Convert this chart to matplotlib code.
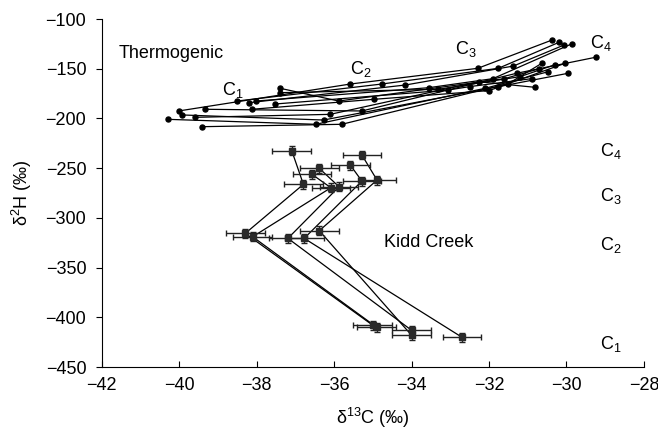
import matplotlib
matplotlib.use("Agg")
import matplotlib.pyplot as plt
import numpy as np

plt.rcParams['font.family'] = ['Liberation Sans', 'DejaVu Sans']
plt.rcParams['mathtext.default'] = 'regular'

# Thermogenic series: each row = C1, C2, C3, C4 (d13C, d2H)
thermo_c13 = [
    [-40.01, -35.58, -32.29, -30.37],
    [-40.29, -36.47, -32.10, -30.47],
    [-39.92, -36.27, -31.76, -29.96],
    [-39.60, -36.10, -32.27, -30.81],
    [-39.40, -35.80, -31.50, -30.64],
    [-39.32, -35.28, -31.29, -29.25],
    [-38.50, -34.77, -31.76, -30.19],
    [-38.20, -34.16, -31.37, -30.06],
    [-38.01, -33.56, -31.90, -29.87],
    [-38.12, -34.98, -32.00, -30.04],
    [-37.39, -35.88, -31.60, -30.70],
    [-37.40, -33.31, -31.20, -30.30],
    [-37.52, -33.05, -32.50, -30.90],
]
thermo_h2 = [
    [-192.5, -165.4, -149.6, -121.1],
    [-200.9, -205.9, -169.7, -153.0],
    [-196.5, -201.6, -168.1, -154.6],
    [-198.9, -195.9, -163.1, -168.7],
    [-208.3, -205.9, -165.0, -144.6],
    [-190.8, -192.5, -154.6, -138.5],
    [-182.5, -165.4, -149.6, -123.4],
    [-184.2, -166.4, -147.3, -126.1],
    [-182.5, -169.1, -160.0, -125.1],
    [-190.8, -180.8, -172.0, -144.6],
    [-169.7, -182.5, -160.0, -150.0],
    [-174.1, -170.7, -158.0, -146.0],
    [-185.5, -171.4, -168.0, -160.0],
]

# Kidd Creek series: each row = C1, C2, C3, C4
kidd_c13 = [
    [-35.00, -38.29, -36.79, -37.09],
    [-34.90, -38.10, -36.08, -36.57],
    [-34.00, -37.19, -35.87, -36.38],
    [-34.00, -36.38, -34.89, -35.28],
    [-32.70, -36.77, -35.28, -35.58],
]
kidd_h2 = [
    [-408.0, -315.6, -266.3, -232.5],
    [-410.0, -319.0, -269.7, -256.2],
    [-413.0, -320.6, -268.7, -250.2],
    [-418.0, -312.9, -262.0, -236.8],
    [-420.0, -320.6, -263.0, -246.9],
]
kidd_xerr = 0.5
kidd_yerr = 4.5

fig = plt.figure(figsize=(6.58, 4.30), dpi=100)
ax = fig.add_axes([0.1543, 0.1465, 0.9787 - 0.1543, 0.9558 - 0.1465])

for xs, ys in zip(thermo_c13, thermo_h2):
    ax.plot(xs, ys, color='black', lw=0.9, marker='o', ms=3.6, mfc='black', mec='black')

for xs, ys in zip(kidd_c13, kidd_h2):
    ax.plot(xs, ys, color='black', lw=0.9, zorder=2)
    ax.errorbar(xs, ys, xerr=kidd_xerr, yerr=kidd_yerr, fmt='s', ms=5, color='#222222',
                mfc='#2a2a2a', mec='#2a2a2a', ecolor='#222222', elinewidth=1.0,
                capsize=2.5, capthick=1.0, zorder=3)

fs = 13
ax.text(-41.55, -135, 'Thermogenic', fontsize=fs, va='center', ha='left')
ax.text(-38.6, -171, 'C$_1$', fontsize=fs, va='center', ha='center')
ax.text(-35.3, -150, 'C$_2$', fontsize=fs, va='center', ha='center')
ax.text(-32.6, -130, 'C$_3$', fontsize=fs, va='center', ha='center')
ax.text(-29.1, -124, 'C$_4$', fontsize=fs, va='center', ha='center')

ax.text(-34.7, -325, 'Kidd Creek', fontsize=fs, va='center', ha='left')
ax.text(-28.85, -233, 'C$_4$', fontsize=fs, va='center', ha='center')
ax.text(-28.85, -278, 'C$_3$', fontsize=fs, va='center', ha='center')
ax.text(-28.85, -327, 'C$_2$', fontsize=fs, va='center', ha='center')
ax.text(-28.85, -427, 'C$_1$', fontsize=fs, va='center', ha='center')

ax.set_xlim(-42, -28)
ax.set_ylim(-450, -100)
ax.set_xticks(np.arange(-42, -27, 2))
ax.set_yticks(np.arange(-450, -99, 50))
ax.spines['top'].set_visible(False)
ax.spines['right'].set_visible(False)
ax.tick_params(axis='x', direction='in', length=4, pad=7, labelsize=fs)
ax.tick_params(axis='y', direction='out', length=4, pad=7, labelsize=fs)
ax.set_xlabel('δ$^{13}$C (‰)', fontsize=fs, labelpad=9)
ax.set_ylabel('δ$^{2}$H (‰)', fontsize=fs, labelpad=8)

fig.savefig('out.png', dpi=100)
